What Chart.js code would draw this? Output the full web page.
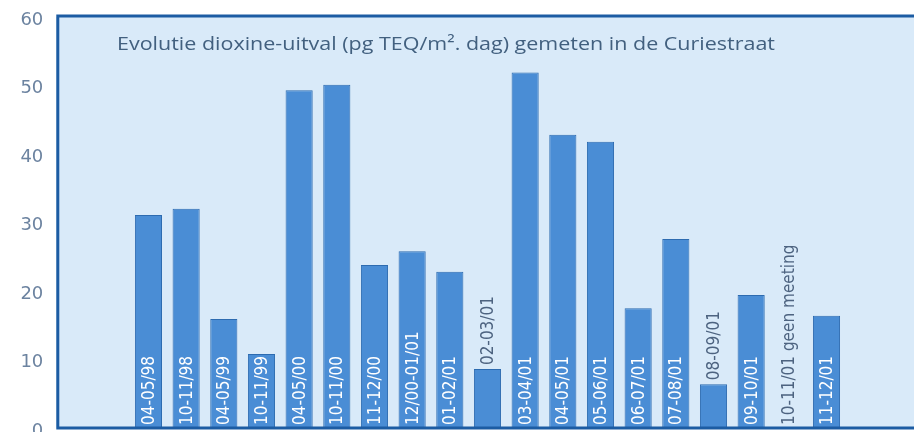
<!DOCTYPE html>
<html>
<head>
<meta charset="utf-8">
<script src="https://cdn.jsdelivr.net/npm/chart.js@4/dist/chart.umd.min.js"></script>
<style>
  html, body { margin: 0; padding: 0; background: #ffffff; overflow: hidden; }
  #wrap { width: 914px; height: 432px; }
</style>
</head>
<body>
<div id="wrap"><canvas id="c" width="914" height="432"></canvas></div>
<script>
// ---- data ----
const categories = ['04-05/98','10-11/98','04-05/99','10-11/99','04-05/00','10-11/00','11-12/00','12/00-01/01','01-02/01','02-03/01','03-04/01','04-05/01','05-06/01','06-07/01','07-08/01','08-09/01','09-10/01','10-11/01 geen meeting','11-12/01'];
const values     = [31.1, 32.0, 15.9, 10.8, 49.3, 50.1, 23.8, 25.8, 22.8, 8.6, 51.9, 42.8, 41.8, 17.5, 27.6, 6.4, 19.4, null, 16.4];
const yTicks     = [0, 10, 20, 30, 40, 50, 60];
const titleText  = 'Evolutie dioxine-uitval (pg TEQ/m². dag) gemeten in de Curiestraat';

// empty slots before / after the measured periods
const lead = 2, trail = 1;
const labels = [...Array(lead).fill(''), ...categories, ...Array(trail).fill('')];
const data   = [...Array(lead).fill(null), ...values, ...Array(trail).fill(null)];

const BOX = '#1c5ca3';
const decor = {
  id: 'decor',
  beforeDraw(chart) {
    const { ctx, chartArea: a } = chart;
    ctx.save();
    ctx.fillStyle = '#d9eaf9';
    ctx.fillRect(a.left + 2, a.top, chart.width - a.left, a.bottom - a.top);
    ctx.restore();
  },
  afterDatasetsDraw(chart) {
    const { ctx, chartArea: a } = chart;
    const meta = chart.getDatasetMeta(0);
    ctx.save();
    // bar labels
    ctx.font = '17px "DejaVu Sans Condensed", "DejaVu Sans", sans-serif';
    ctx.textBaseline = 'middle';
    ctx.textAlign = 'left';
    meta.data.forEach((bar, i) => {
      const lab = labels[i];
      if (!lab) return;
      const w = ctx.measureText(lab).width;
      const h = data[i] == null ? 0 : a.bottom - bar.y;
      let start, color;
      if (h >= w - 6) { start = a.bottom - 3; color = '#ffffff'; }
      else { start = (data[i] == null ? a.bottom - 3 : bar.y - 4); color = '#4d6380'; }
      ctx.save();
      ctx.translate(bar.x + 1, start);
      ctx.rotate(-Math.PI / 2);
      ctx.fillStyle = color;
      ctx.fillText(lab, 0, 0);
      ctx.restore();
    });
    // title
    ctx.font = '19px "Open Sans", sans-serif';
    ctx.fillStyle = '#42607f';
    ctx.textBaseline = 'alphabetic';
    const tw = ctx.measureText(titleText).width;
    const sx = 658 / tw;
    ctx.save();
    ctx.translate(117, 50);
    ctx.scale(sx, 1);
    ctx.fillText(titleText, 0, 0);
    ctx.restore();
    // box border
    ctx.strokeStyle = BOX;
    ctx.lineWidth = 3;
    ctx.beginPath();
    ctx.moveTo(chart.width + 5, a.top - 1);
    ctx.lineTo(a.left + 3.5, a.top - 1);
    ctx.lineTo(a.left + 3.5, a.bottom);
    ctx.lineTo(chart.width + 5, a.bottom);
    ctx.stroke();
    ctx.restore();
  }
};

new Chart(document.getElementById('c'), {
  type: 'bar',
  data: {
    labels: labels,
    datasets: [{
      data: data,
      backgroundColor: '#4a8dd5',
      borderColor: '#2d6bb0',
      borderWidth: 1,
      barPercentage: 0.72,
      categoryPercentage: 1.0
    }]
  },
  options: {
    responsive: false,
    animation: false,
    devicePixelRatio: 1,
    layout: { padding: { top: 17, bottom: 4, left: 0, right: 31 } },
    plugins: { legend: { display: false }, tooltip: { enabled: false }, title: { display: false } },
    scales: {
      x: { display: false, offset: true },
      y: {
        min: 0, max: 60,
        afterFit(scale) { scale.width = 54.3; scale.paddingTop = 0; scale.paddingBottom = 0; },
        afterBuildTicks(scale) { scale.ticks = yTicks.map(v => ({ value: v })); },
        grid: { display: false },
        border: { display: false },
        ticks: {
          padding: 3,
          labelOffset: 3,
          color: '#6c83a0',
          font: { family: '"DejaVu Sans", sans-serif', size: 18 }
        }
      }
    }
  },
  plugins: [decor]
});
</script>
</body>
</html>
